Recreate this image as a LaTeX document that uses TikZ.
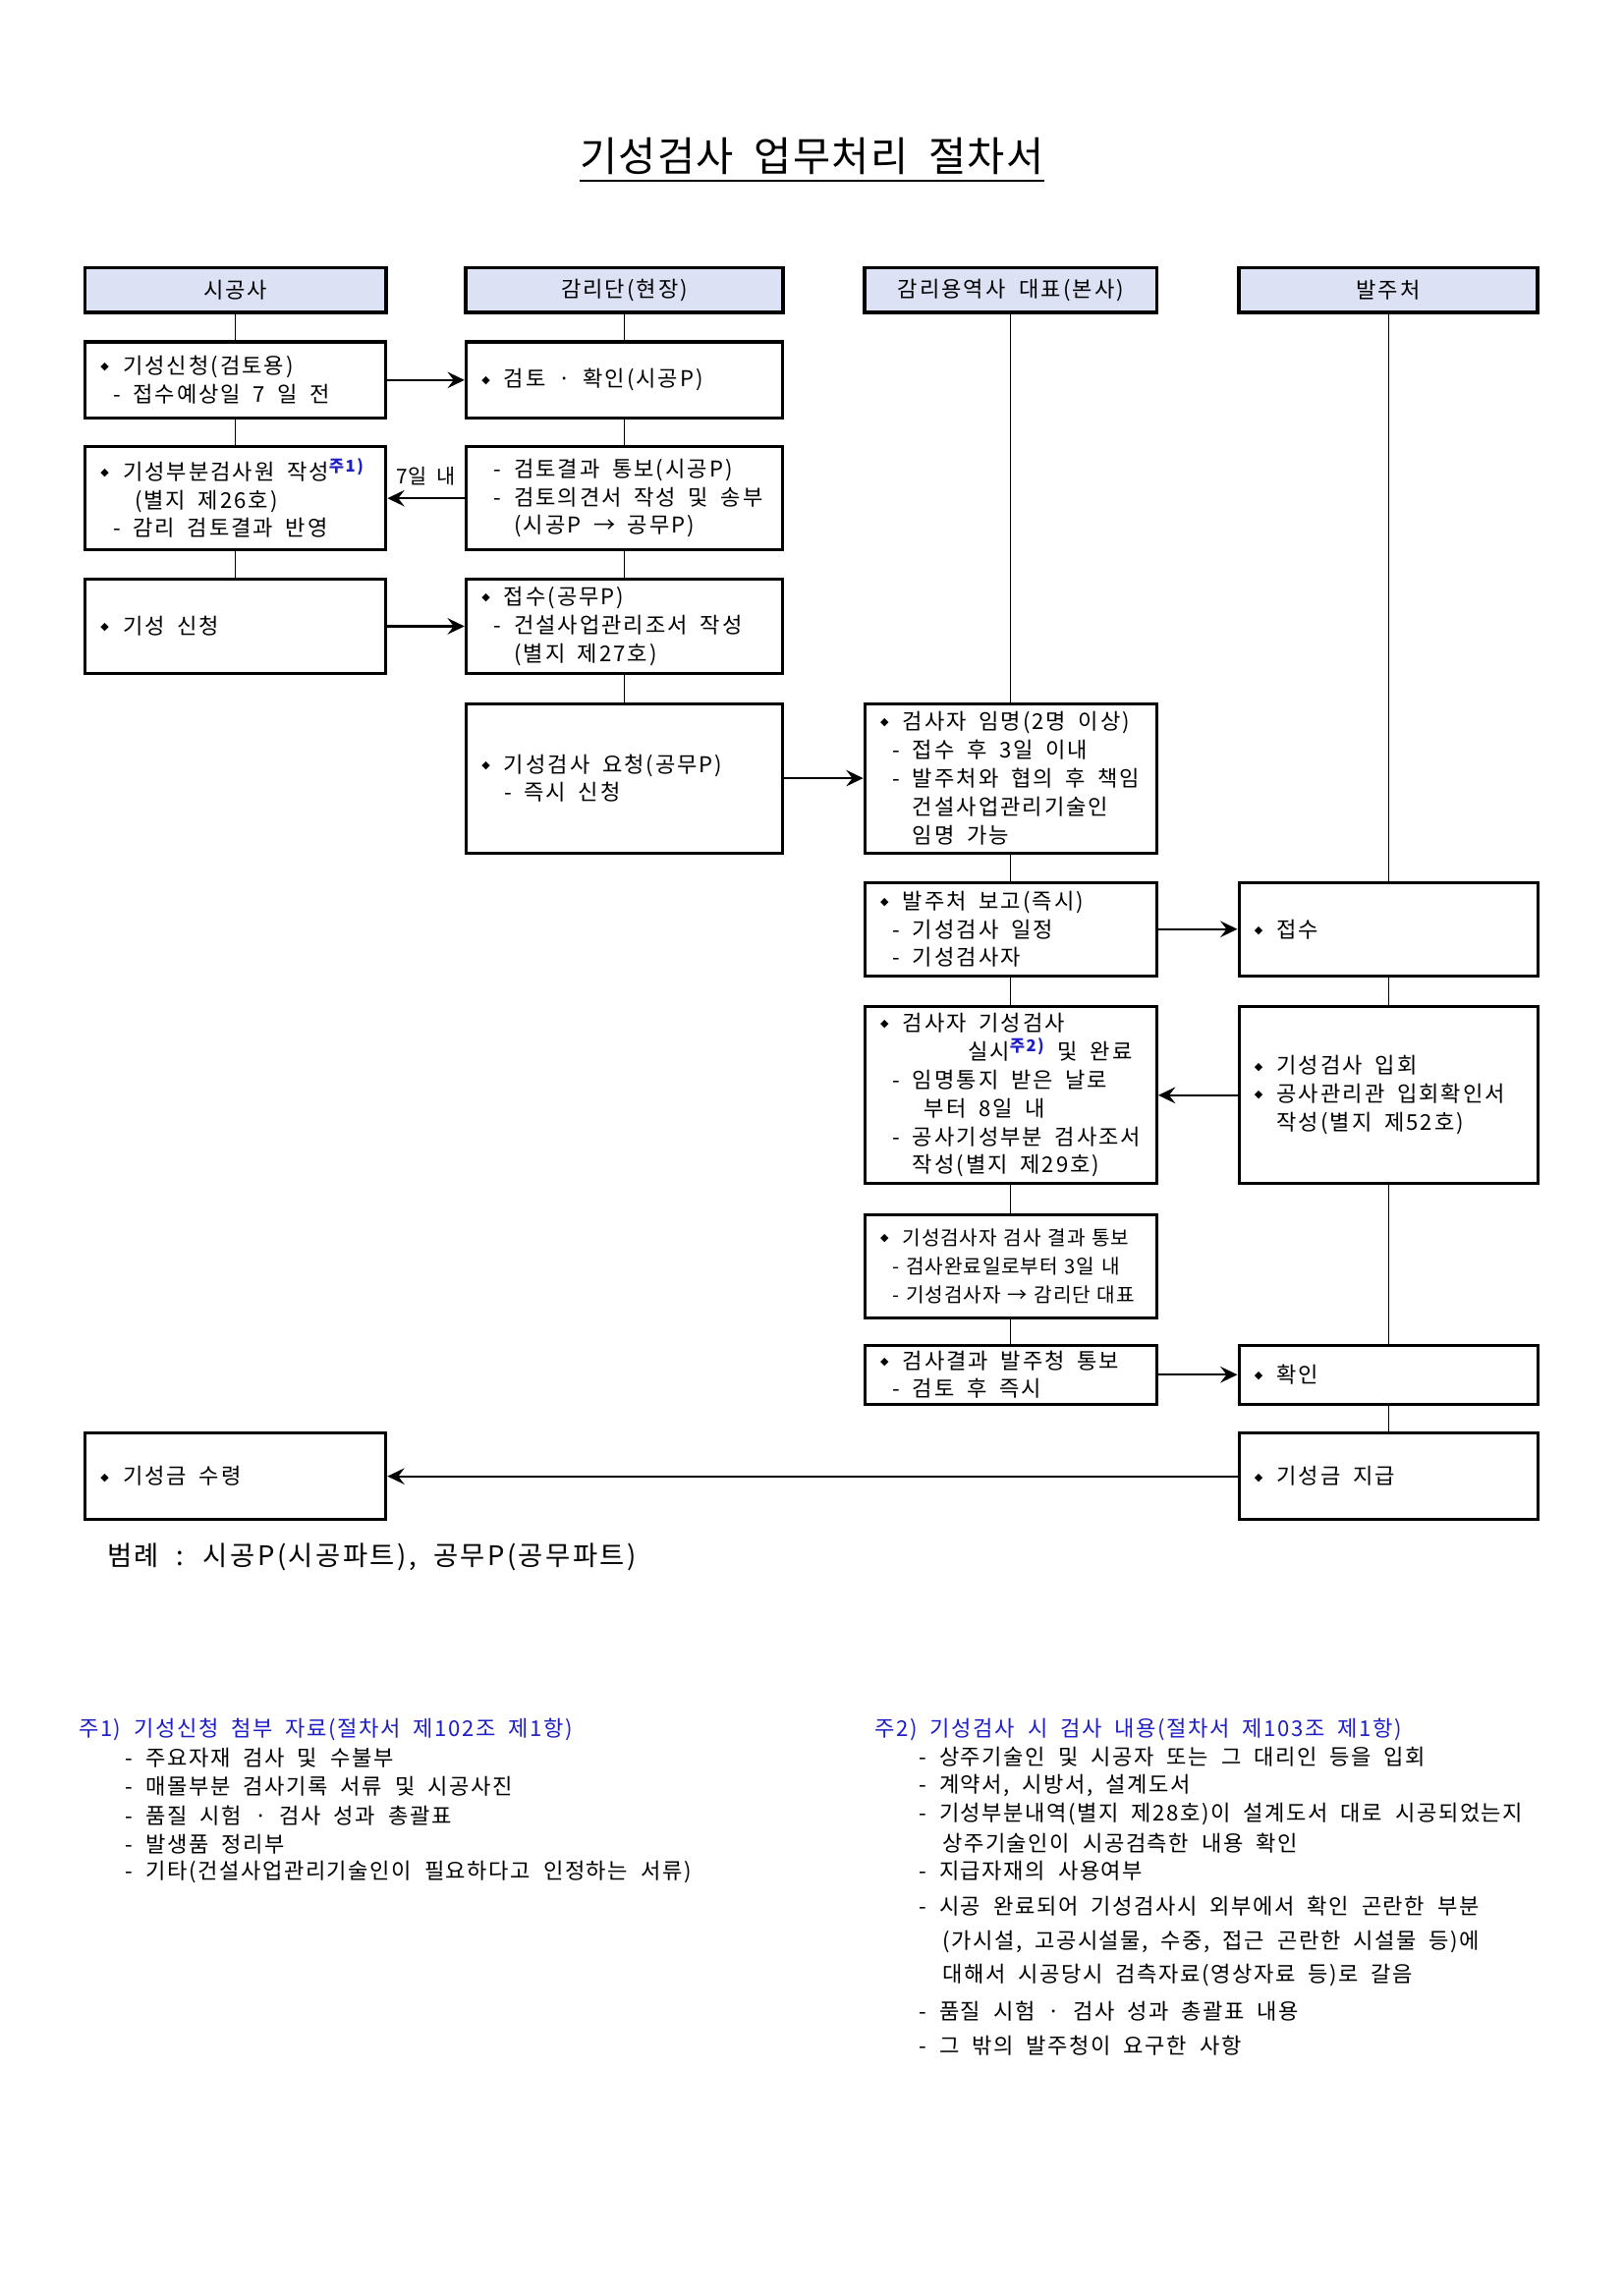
\documentclass[tikz,border=0pt]{standalone}
\usepackage{fontspec}
\setmainfont{Noto Sans CJK KR}[WordSpace=2, LetterSpace=9]
\newfontfamily\notefont{Noto Sans CJK KR}[WordSpace=2, LetterSpace=7]
\newfontfamily\tightfont{Noto Sans CJK KR}[WordSpace=2, LetterSpace=4]
\newfontfamily\ttlfont{Noto Sans CJK KR}[WordSpace=2, LetterSpace=3]
\newfontfamily\dingfont{DejaVu Sans}
\usetikzlibrary{arrows.meta}

\definecolor{hdrblue}{RGB}{220,226,244}
\definecolor{noteblue}{RGB}{30,30,200}

\newcommand\dmd{\hspace*{0.76mm}\raisebox{1.4pt}{\dingfont\fontsize{4pt}{4pt}\selectfont ◆}\hspace{1.8mm}}
\newcommand\dsh{\hspace*{2.36mm}-\ }
\newcommand\cnt{\hspace*{2.36mm}\phantom{-\ }}
\newcommand\fnref[1]{\textsuperscript{\color{noteblue}\bfseries #1}}

\begin{document}
\begin{tikzpicture}[x=0.1263mm, y=-0.1263mm,
  every node/.style={font=\fontsize{8pt}{10.41pt}\selectfont},
  hdr/.style={draw, line width=1.4pt, fill=hdrblue, minimum height=5.81mm},
  box/.style={draw, line width=1.1pt, align=left, inner xsep=1.26mm, inner ysep=0pt,
    execute at begin node={\spaceskip=0.57em\relax}},
  boxA/.style={box, text width=36.38mm},
  boxB/.style={box, text width=38.40mm},
  boxC/.style={box, text width=35.23mm},
  boxD/.style={box, text width=36.12mm},
  lane/.style={line width=0.45pt},
  arr/.style={line width=0.8pt, -{Stealth[length=2.2mm, width=2.1mm, inset=0.8mm]}},
  notehd/.style={anchor=west, inner sep=0pt, text=noteblue, font=\notefont\fontsize{8pt}{10.41pt}\selectfont},
  notetx/.style={anchor=west, inner sep=0pt, font=\notefont\fontsize{8pt}{10.41pt}\selectfont}]

  \useasboundingbox (0,0) rectangle (1662,2350);

  \node[font=\ttlfont\fontsize{15pt}{17pt}\selectfont, inner sep=0pt] (ttl) at (831,160) {기성검사 업무처리 절차서};
  \draw[line width=1pt] ([yshift=-2pt]ttl.south west) -- ([yshift=-2pt]ttl.south east);

  \node[hdr, minimum width=38.90mm] (h1) at (241,297) {시공사};
  \node[hdr, minimum width=40.92mm] (h2) at (639,297) {감리단(현장)};
  \node[hdr, minimum width=37.76mm] (h3) at (1034.5,297) {감리용역사 대표(본사)};
  \node[hdr, minimum width=38.65mm] (h4) at (1421,297) {발주처};

  \node[boxA, minimum height=9.86mm] (a1) at (241,389) {\dmd 기성신청(검토용)\\\dsh 접수예상일 7 일 전};
  \node[boxA, minimum height=13.27mm] (a2) at (241,510) {\dmd 기성부분검사원 작성\fnref{주1)}\\\hspace*{5.16mm}(별지 제26호)\\\dsh 감리 검토결과 반영};
  \node[boxA, minimum height=12.25mm] (a3) at (241,641) {\dmd 기성 신청};
  \node[boxA, minimum height=11.12mm] (a4) at (241,1511) {\dmd 기성금 수령};

  \node[boxB, minimum height=9.86mm] (b1) at (639,389) {\dmd 검토 · 확인(시공P)};
  \node[boxB, minimum height=13.27mm] (b2) at (639,510) {\dsh 검토결과 통보(시공P)\\\dsh 검토의견서 작성 및 송부\\\hspace*{4.96mm}(시공P → 공무P)};
  \node[boxB, minimum height=12.25mm] (b3) at (639,641) {\dmd 접수(공무P)\\\dsh 건설사업관리조서 작성\\\cnt(별지 제27호)};
  \node[boxB, minimum height=19.32mm] (b4) at (639,796.5) {\dmd 기성검사 요청(공무P)\\\hspace*{1.3mm}\dsh 즉시 신청};

  \node[boxC, minimum height=19.32mm] (c1) at (1034.5,796.5) {\dmd 검사자 임명(2명 이상)\\\dsh 접수 후 3일 이내\\\dsh 발주처와 협의 후 책임\\\cnt 건설사업관리기술인\\\cnt 임명 가능};
  \node[boxC, minimum height=12.12mm] (c2) at (1034.5,951) {\dmd 발주처 보고(즉시)\\\dsh 기성검사 일정\\\dsh 기성검사자};
  \node[boxC, minimum height=22.86mm] (c3) at (1034.5,1121) {\dmd 검사자 기성검사\\\hspace*{12.06mm}실시\fnref{주2)} 및 완료\\\dsh 임명통지 받은 날로\\\hspace*{6.46mm}부터 8일 내\\\dsh 공사기성부분 검사조서\\\cnt 작성(별지 제29호)};
  \node[boxC, minimum height=13.27mm, font=\tightfont\fontsize{7.3pt}{10.41pt}\selectfont,
    execute at begin node={\spaceskip=0.34em\relax}] (c4) at (1034.5,1296) {\dmd 기성검사자 검사 결과 통보\\\dsh 검사완료일로부터 3일 내\\\dsh 기성검사자 → 감리단 대표};
  \node[boxC, minimum height=7.58mm] (c5) at (1034.5,1407) {\dmd 검사결과 발주청 통보\\\dsh 검토 후 즉시};

  \node[boxD, minimum height=12.12mm] (d1) at (1421,951) {\dmd 접수};
  \node[boxD, minimum height=22.86mm] (d2) at (1421,1121) {\dmd 기성검사 입회\\\dmd 공사관리관 입회확인서\\\phantom{\dmd}작성(별지 제52호)};
  \node[boxD, minimum height=7.58mm] (d3) at (1421,1407) {\dmd 확인};
  \node[boxD, minimum height=11.12mm] (d4) at (1421,1511) {\dmd 기성금 지급};

  \foreach \u/\v in {h1/a1,a1/a2,a2/a3,h2/b1,b1/b2,b2/b3,b3/b4,h3/c1,c1/c2,c2/c3,c3/c4,c4/c5,h4/d1,d1/d2,d2/d3,d3/d4}
    \draw[lane] (\u) -- (\v);

  \draw[arr] (a1) -- (b1);
  \draw[arr] (b2) -- node[above=1pt, font=\ttlfont\fontsize{7.5pt}{9pt}\selectfont] (lbl7) {7일 내} (a2);
  \draw[arr] (a3) -- (b3);
  \draw[arr] (b4) -- (c1);
  \draw[arr] (c2) -- (d1);
  \draw[arr] (d2) -- (c3);
  \draw[arr] (c5) -- (d3);
  \draw[arr] (d4) -- (a4);

  \node[anchor=west, font=\fontsize{9.9pt}{12pt}\selectfont] (lgd) at (100,1594) {범례 : 시공P(시공파트), 공무P(공무파트)};

  \node[notehd] (n1) at (80,1770) {주1) 기성신청 첨부 자료(절차서 제102조 제1항)};
  \foreach \txt [count=\i] in {주요자재 검사 및 수불부, 매몰부분 검사기록 서류 및 시공사진, 품질 시험 · 검사 성과 총괄표, 발생품 정리부, 기타(건설사업관리기술인이 필요하다고 인정하는 서류)}
    \node[notetx] (n1-\i) at (128,{1770+29.3*\i}) {- \txt};

  \node[notehd] (n2) at (895,1770) {주2) 기성검사 시 검사 내용(절차서 제103조 제1항)};
  \foreach \y/\x/\txt [count=\i] in {1798/940/{- 상주기술인 및 시공자 또는 그 대리인 등을 입회},
      1828/940/{- 계약서, 시방서, 설계도서},
      1857/940/{- 기성부분내역(별지 제28호)이 설계도서 대로 시공되었는지},
      1887/964/{상주기술인이 시공검측한 내용 확인},
      1915/940/{- 지급자재의 사용여부},
      1951/940/{- 시공 완료되어 기성검사시 외부에서 확인 곤란한 부분},
      1987/964/{(가시설, 고공시설물, 수중, 접근 곤란한 시설물 등)에},
      2022/964/{대해서 시공당시 검측자료(영상자료 등)로 갈음},
      2058/940/{- 품질 시험 · 검사 성과 총괄표 내용},
      2094/940/{- 그 밖의 발주청이 요구한 사항}}
    \node[notetx] (n2-\i) at (\x,\y) {\txt};
\end{tikzpicture}
\end{document}
